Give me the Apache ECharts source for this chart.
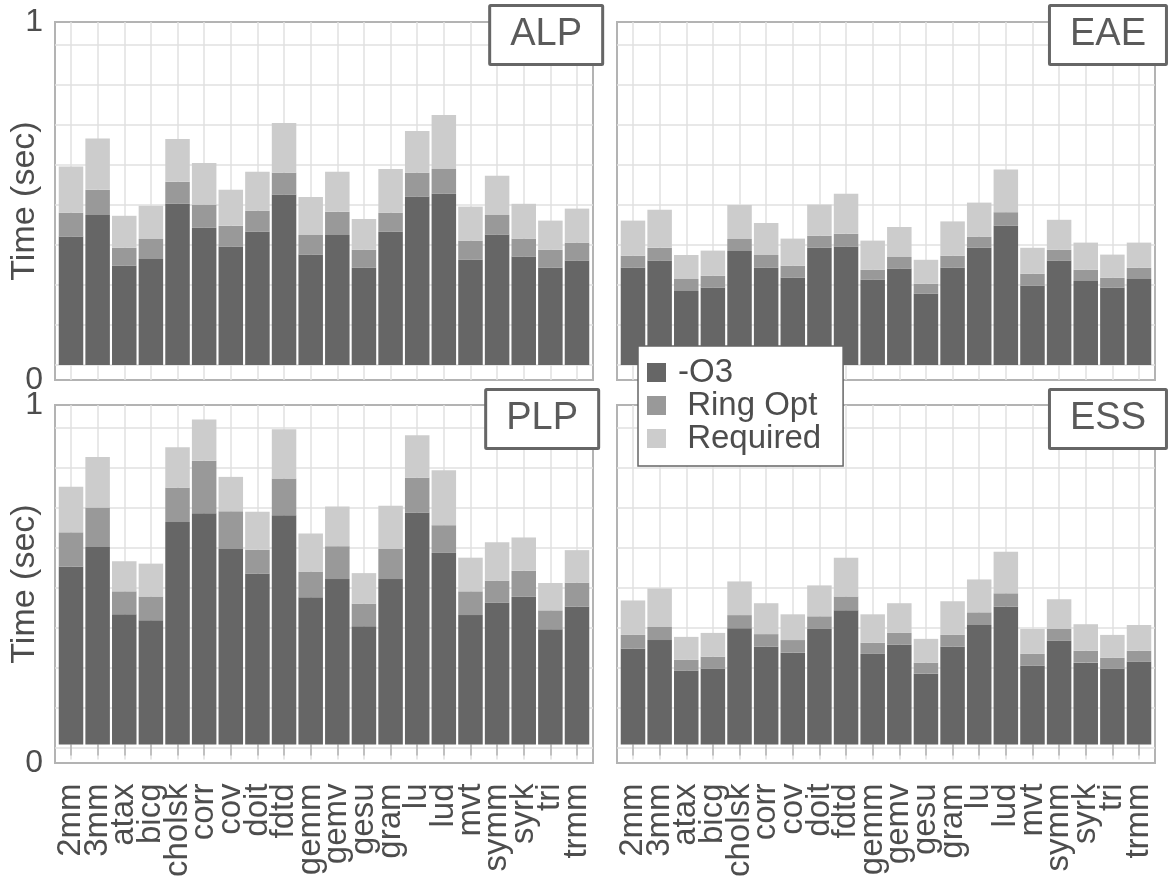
<!DOCTYPE html>
<html>
<head>
<meta charset="utf-8">
<script src="https://cdn.jsdelivr.net/npm/echarts@6/dist/echarts.min.js"></script>
<style>
html,body{margin:0;padding:0;background:#fff;}
#chart{width:1173px;height:880px;}
</style>
</head>
<body>
<div id="chart"></div>
<script>
// ---- data ----
const categories = ['2mm','3mm','atax','bicg','cholsk','corr','cov','doit','fdtd','gemm','gemv','gesu','gram','lu','lud','mvt','symm','syrk','tri','trmm'];
const panelNames = ['ALP','EAE','PLP','ESS'];
const seriesNames = ['-O3','Ring Opt','Required'];
const yTickLabels = ['0','1'];
const yAxisTitle = 'Time (sec)';

const alpO3   = [0.321,0.375,0.248,0.265,0.403,0.343,0.296,0.333,0.426,0.276,0.325,0.243,0.333,0.421,0.428,0.263,0.326,0.271,0.243,0.261];
const alpRing = [0.060,0.063,0.045,0.050,0.055,0.058,0.052,0.053,0.055,0.049,0.058,0.045,0.048,0.060,0.062,0.048,0.049,0.045,0.045,0.045];
const alpReq  = [0.115,0.128,0.080,0.083,0.107,0.104,0.090,0.097,0.124,0.095,0.100,0.077,0.109,0.104,0.135,0.085,0.098,0.087,0.073,0.085];

const eaeO3   = [0.243,0.261,0.185,0.193,0.285,0.243,0.218,0.293,0.296,0.213,0.241,0.178,0.243,0.293,0.348,0.198,0.261,0.210,0.193,0.215];
const eaeRing = [0.030,0.032,0.030,0.030,0.030,0.032,0.030,0.030,0.032,0.025,0.029,0.025,0.030,0.028,0.034,0.030,0.027,0.028,0.025,0.028];
const eaeReq  = [0.088,0.095,0.060,0.063,0.085,0.080,0.068,0.078,0.100,0.073,0.075,0.060,0.086,0.085,0.107,0.065,0.075,0.068,0.058,0.063];

const plpO3   = [0.449,0.499,0.329,0.314,0.562,0.584,0.494,0.432,0.579,0.372,0.418,0.299,0.418,0.586,0.484,0.327,0.358,0.373,0.291,0.348];
const plpRing = [0.087,0.100,0.058,0.060,0.087,0.133,0.095,0.060,0.093,0.065,0.083,0.057,0.076,0.088,0.070,0.060,0.056,0.066,0.048,0.061];
const plpReq  = [0.115,0.127,0.076,0.083,0.102,0.104,0.087,0.096,0.124,0.096,0.100,0.077,0.109,0.107,0.139,0.085,0.097,0.084,0.069,0.082];

const essO3   = [0.242,0.264,0.187,0.192,0.294,0.247,0.232,0.292,0.339,0.229,0.252,0.179,0.247,0.302,0.349,0.199,0.262,0.207,0.192,0.209];
const essRing = [0.035,0.033,0.027,0.030,0.033,0.032,0.032,0.032,0.035,0.028,0.030,0.028,0.030,0.032,0.033,0.030,0.030,0.030,0.027,0.028];
const essReq  = [0.087,0.097,0.058,0.060,0.085,0.078,0.065,0.078,0.098,0.072,0.075,0.060,0.085,0.083,0.105,0.063,0.075,0.067,0.058,0.065];

const panelData = [
  [alpO3, alpRing, alpReq],
  [eaeO3, eaeRing, eaeReq],
  [plpO3, plpRing, plpReq],
  [essO3, essRing, essReq]
];

// ---- style / layout ----
const FONT = 'Liberation Sans, Arial, Helvetica, sans-serif';
const TEXT = '#4d4d4d';
const GRIDC = '#e0e0e0';
const BORDER = '#b3b3b3';
const colors = ['#666666','#999999','#cccccc'];
const panelX = [55, 617];
const panelY = [22, 405];
const panelW = 538, panelH = 358;
const innerTop = 23, innerH = 320;     // horizontal grid band
const catInset = 16;                     // discrete axis expansion
const yMin = -0.0375, yMax = 0.8575;     // bar axis range
const titleRight = [[570, 6], [574, 6]];
const titleTop = [5, 389];

const grid = [], xAxis = [], yAxis = [], series = [], title = [];

panelNames.forEach((pname, p) => {
  const col = p % 2, row = Math.floor(p / 2);
  const x = panelX[col], y = panelY[row];
  const gP = grid.length, gH = gP + 1, gV = gP + 2;

  // panel frame + y labels
  grid.push({left: x, top: y, width: panelW, height: panelH, show: true,
             borderColor: BORDER, borderWidth: 2, backgroundColor: 'transparent', containLabel: false});
  xAxis.push({gridIndex: gP, type: 'value', show: false, min: 0, max: 1});
  yAxis.push({gridIndex: gP, type: 'value', min: 0, max: 1, interval: 1,
    axisLine: {show: false}, axisTick: {show: false}, splitLine: {show: false},
    axisLabel: {show: col === 0, formatter: v => yTickLabels[Math.round(v)],
                fontSize: 32, color: TEXT, margin: 12, fontFamily: FONT},
    name: col === 0 ? yAxisTitle : '', nameLocation: 'middle', nameGap: 13,
    nameMoveOverlap: false,
    nameTextStyle: {fontSize: 34, color: TEXT, fontFamily: FONT}
  });

  // horizontal grid lines
  grid.push({left: x, top: y + innerTop, width: panelW, height: innerH, containLabel: false});
  xAxis.push({gridIndex: gH, type: 'value', show: false, min: 0, max: 1});
  yAxis.push({gridIndex: gH, type: 'value', min: 0, max: 0.8, interval: 0.1,
    axisLine: {show: false}, axisTick: {show: false}, axisLabel: {show: false},
    splitLine: {show: true, lineStyle: {color: GRIDC, width: 1.5}}});

  // bars + vertical grid lines + x labels
  grid.push({left: x + catInset, top: y, width: panelW - 2 * catInset, height: panelH, containLabel: false});
  xAxis.push({gridIndex: gV, type: 'category', data: categories, boundaryGap: false,
    axisLine: {show: false},
    axisTick: {show: row === 1, interval: 0, length: 11, lineStyle: {color: BORDER, width: 1.5}},
    axisLabel: {show: row === 1, interval: 0, rotate: 90, fontSize: 33, color: TEXT, margin: 24, fontFamily: FONT},
    splitLine: {show: true, interval: 0, lineStyle: {color: GRIDC, width: 1.5}}});
  yAxis.push({gridIndex: gV, type: 'value', min: yMin, max: yMax, show: false});

  panelData[p].forEach((vals, s) => {
    series.push({
      type: 'bar', name: seriesNames[s], stack: 'st' + p,
      xAxisIndex: gV, yAxisIndex: gV, data: vals,
      barWidth: '92%', clip: false,
      itemStyle: {color: colors[s]}, emphasis: {disabled: true}
    });
  });

  title.push({text: pname, right: titleRight[row][col], top: titleTop[row],
    backgroundColor: '#fff', borderColor: '#666666', borderWidth: 3, borderRadius: 1,
    padding: [11, 21, 11, 21],
    textStyle: {fontSize: 38, fontWeight: 'normal', color: '#5a5a5a', fontFamily: FONT, lineHeight: 38}});
});

const option = {
  animation: false,
  backgroundColor: '#ffffff',
  title: title,
  grid: grid, xAxis: xAxis, yAxis: yAxis, series: series,
  legend: {
    data: seriesNames, orient: 'vertical', left: 638, top: 346,
    backgroundColor: '#ffffff', borderColor: '#666666', borderWidth: 1.5,
    padding: [10, 22, 11, 9], itemWidth: 19, itemHeight: 19, itemGap: 0,
    icon: 'rect', selectedMode: false,
    formatter: n => (n === seriesNames[0] ? n : ' ' + n),
    textStyle: {fontSize: 33, color: TEXT, fontFamily: FONT, lineHeight: 33, padding: [0, 0, 0, 7]}
  }
};

const chart = echarts.init(document.getElementById('chart'), null, {renderer: 'canvas'});
chart.setOption(option);
</script>
</body>
</html>
